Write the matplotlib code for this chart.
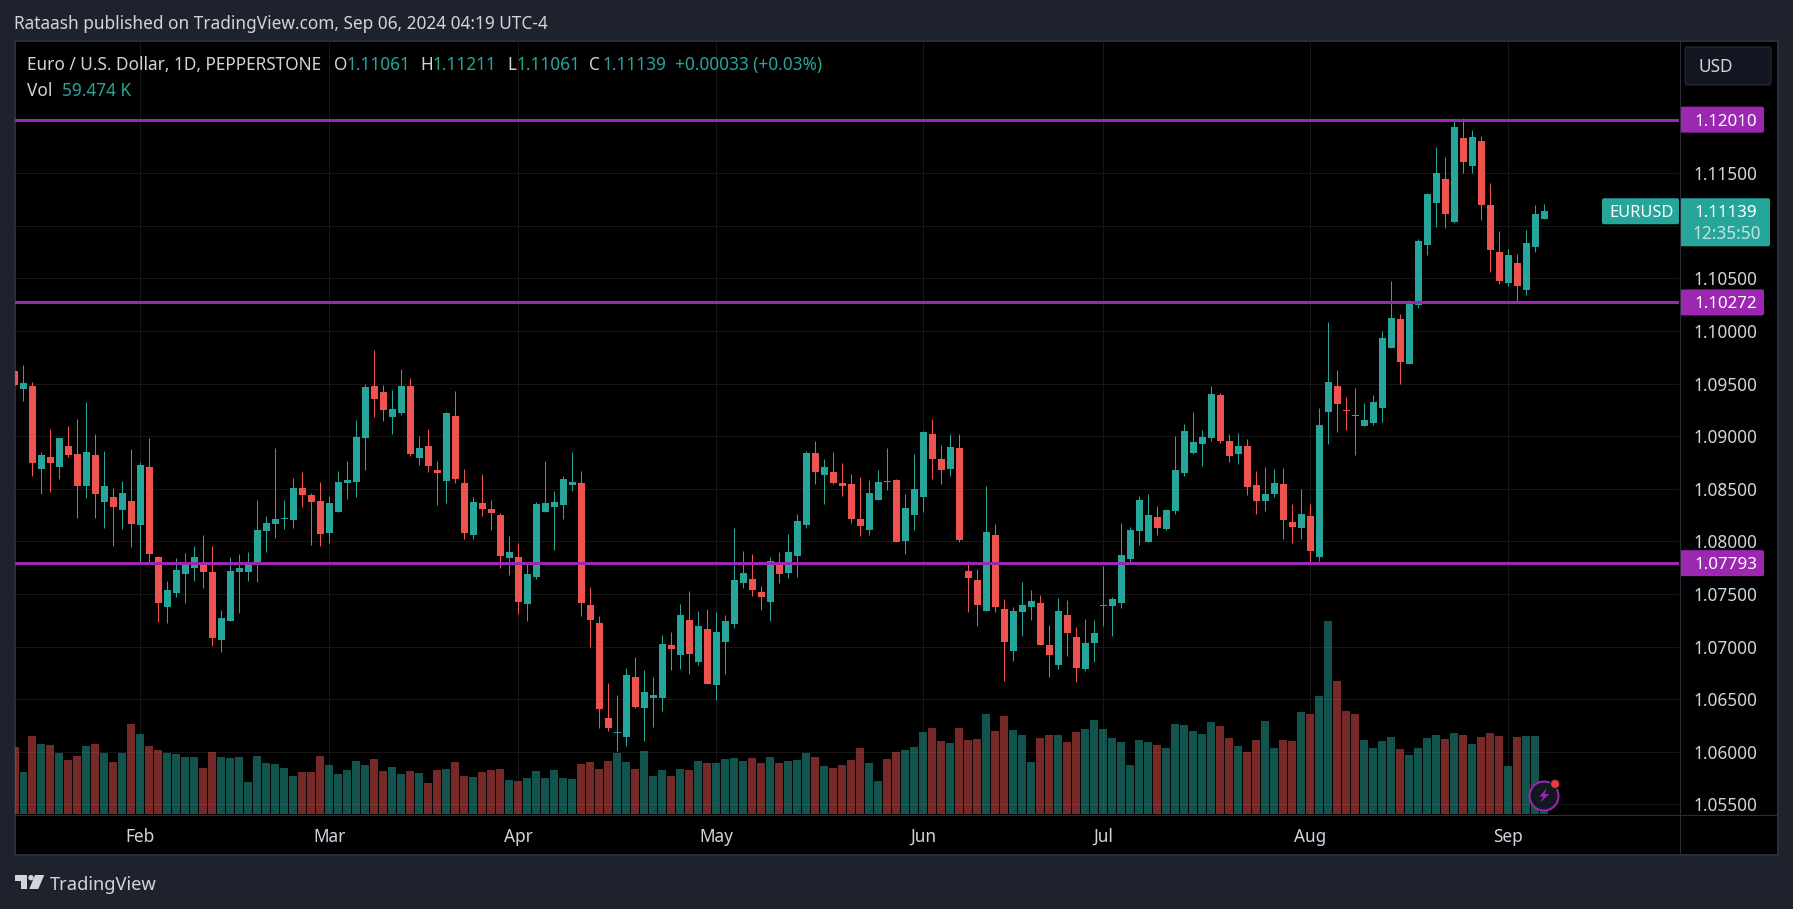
import numpy as np
import matplotlib
matplotlib.use("Agg")
import matplotlib.pyplot as plt
from matplotlib.patches import Rectangle, FancyBboxPatch, Circle, Polygon


# =========================
# 1. Data (prices in points, 1 point = 0.00001; volume in thousands)
# =========================
opens_pts = [
    109620, 109449, 109478, 108689, 108803, 108708, 108907, 108831, 108527, 108822,
    108375, 108422, 108299, 108384, 108156, 108708, 107852, 107377, 107510, 107690,
    107747, 107785, 107709, 107063, 107244, 107709, 107709, 107785, 108099, 108166,
    108213, 108204, 108508, 108441, 108384, 108080, 108280, 108556, 108565, 108983,
    109478, 109421, 109183, 109221, 109478, 108793, 108907, 108679, 108575, 109192,
    108555, 108061, 108365, 108308, 108251, 107842, 107851, 107405, 107661, 108279,
    108327, 108346, 108536, 108555, 107395, 107224, 106321, 106178, 106140, 106711,
    106416, 106511, 106511, 107015, 106920, 107252, 106853, 107167, 106634, 107043,
    107214, 107604, 107642, 107519, 107424, 107794, 107699, 107861, 108156, 108840,
    108631, 108659, 108555, 108545, 108213, 108108, 108393, 108574, 108583, 108003,
    108251, 108422, 109021, 108783, 108688, 108888, 107718, 107633, 107338, 108060,
    107357, 106958, 107328, 107376, 107414, 107015, 106825, 107300, 107091, 106787,
    107034, 107385, 107385, 107414, 107832, 108098, 107994, 108232, 108118, 108289,
    108650, 108840, 108926, 108983, 109391, 108954, 108831, 108907, 108536, 108384,
    108450, 108545, 108184, 108127, 108241, 107852, 109231, 109478, 109250, 109202,
    109098, 109126, 109269, 109839, 110115, 109687, 110248, 110818, 111218, 111446,
    111037, 111836, 111570, 111807, 111199, 110752, 110457, 110647, 110391, 110799,
    111061,
]
highs_pts = [
    109620, 109677, 109516, 108850, 109069, 108983, 109097, 109164, 109326, 109021,
    108860, 108508, 108575, 108879, 108755, 108983, 107861, 107624, 107842, 107890,
    107957, 108061, 107957, 107348, 107852, 107881, 107899, 108394, 108242, 108888,
    108394, 108603, 108660, 108460, 108565, 108432, 108670, 108765, 109154, 109497,
    109820, 109487, 109440, 109639, 109554, 109002, 109069, 108765, 109230, 109430,
    108688, 108422, 108640, 108393, 108270, 108051, 107985, 107794, 108374, 108764,
    108479, 108621, 108850, 108669, 107566, 107290, 106654, 106539, 106796, 106901,
    106777, 106711, 107110, 107138, 107405, 107528, 107338, 107357, 107328, 107300,
    108127, 107908, 107880, 107576, 107851, 107899, 108070, 108260, 108859, 108954,
    108783, 108850, 108745, 108640, 108612, 108583, 108678, 108888, 108593, 108450,
    108831, 109049, 109163, 108916, 109021, 109021, 107813, 107737, 108526, 108165,
    107452, 107376, 107614, 107538, 107490, 107205, 107462, 107443, 107186, 107262,
    107252, 107766, 107471, 108175, 108137, 108431, 108450, 108336, 108308, 109002,
    109116, 109230, 109059, 109477, 109410, 109021, 109030, 108973, 108669, 108707,
    108688, 108697, 108355, 108498, 108355, 109269, 110086, 109630, 109373, 109459,
    109316, 109392, 110001, 110476, 110162, 110296, 110876, 111313, 111750, 111655,
    112016, 112026, 111912, 111855, 111408, 110952, 110780, 110733, 110961, 111199,
    111211,
]
lows_pts = [
    109487, 109335, 108622, 108451, 108470, 108594, 108803, 108223, 108413, 108223,
    108128, 107957, 108118, 107947, 107804, 107804, 107234, 107225, 107472, 107415,
    107624, 107557, 107006, 106949, 107244, 107320, 107624, 107614, 107899, 108033,
    108118, 108128, 108327, 107966, 107957, 107985, 108280, 108403, 108422, 108679,
    109183, 109145, 109021, 109202, 108812, 108727, 108660, 108346, 108365, 108555,
    108023, 108023, 108241, 108108, 107747, 107680, 107310, 107243, 107642, 108279,
    107918, 108213, 108479, 107290, 106996, 106226, 106197, 106007, 106055, 106416,
    106102, 106235, 106387, 106777, 106787, 106739, 106825, 106644, 106492, 106739,
    107176, 107557, 107481, 107348, 107243, 107604, 107652, 107661, 108127, 108545,
    108355, 108545, 108431, 108175, 108051, 108061, 108393, 108488, 107994, 107880,
    108108, 108279, 108593, 108545, 108621, 107994, 107328, 107195, 107338, 107328,
    106672, 106863, 107100, 107252, 107015, 106710, 106787, 106910, 106663, 106767,
    106853, 107195, 107100, 107366, 107804, 107965, 107994, 108060, 108108, 108260,
    108621, 108831, 108716, 108954, 108935, 108754, 108735, 108441, 108260, 108289,
    108422, 108022, 107984, 108022, 107775, 107814, 108927, 109041, 109060, 108822,
    109098, 109107, 109136, 109839, 109497, 109687, 110220, 110723, 110990, 110980,
    111028, 111503, 111503, 111056, 110562, 110448, 110429, 110267, 110343, 110752,
    111061,
]
closes_pts = [
    109487, 109506, 108746, 108822, 108746, 108983, 108822, 108527, 108850, 108451,
    108527, 108327, 108460, 108166, 108727, 107881, 107415, 107538, 107728, 107776,
    107852, 107709, 107082, 107272, 107719, 107747, 107795, 108109, 108175, 108213,
    108223, 108508, 108441, 108375, 108071, 108365, 108565, 108584, 108993, 109468,
    109354, 109250, 109259, 109478, 108831, 108888, 108717, 108651, 109221, 108593,
    108080, 108374, 108308, 108270, 107861, 107899, 107424, 107690, 108355, 108365,
    108374, 108593, 108564, 107414, 107252, 106406, 106226, 106188, 106730, 106425,
    106568, 106539, 107024, 106977, 107300, 106929, 107195, 106644, 107138, 107243,
    107633, 107699, 107538, 107471, 107813, 107690, 107899, 108194, 108840, 108659,
    108707, 108555, 108526, 108213, 108146, 108460, 108564, 108564, 107994, 108317,
    108498, 109040, 108783, 108678, 108897, 108013, 107652, 107395, 108089, 107376,
    107043, 107338, 107395, 107433, 107015, 106920, 107338, 107129, 106796, 107034,
    107129, 107395, 107452, 107870, 108108, 108393, 108251, 108127, 108298, 108678,
    109049, 108945, 108992, 109401, 108954, 108812, 108907, 108517, 108384, 108450,
    108555, 108203, 108137, 108260, 107908, 109107, 109516, 109307, 109240, 109193,
    109155, 109326, 109934, 110124, 109706, 110277, 110857, 111303, 111503, 111113,
    111940, 111608, 111845, 111199, 110771, 110476, 110723, 110429, 110838, 111113,
    111139,
]
volume_k = [
    1212, 762, 1410, 1266, 1248, 1104, 978, 1050, 1230, 1266,
    1104, 942, 1104, 1626, 1446, 1230, 1158, 1104, 1086, 1032,
    1032, 834, 1122, 1032, 1014, 1032, 582, 1050, 924, 906,
    834, 690, 762, 762, 1050, 888, 726, 798, 960, 888,
    996, 780, 852, 726, 780, 744, 564, 798, 816, 942,
    690, 672, 762, 798, 816, 618, 600, 654, 780, 654,
    798, 654, 636, 906, 942, 816, 960, 1104, 942, 816,
    1140, 690, 798, 690, 816, 798, 960, 924, 924, 996,
    1014, 960, 1014, 924, 1032, 924, 960, 978, 1104, 1032,
    870, 834, 888, 978, 1194, 924, 600, 996, 1122, 1158,
    1212, 1482, 1554, 1320, 1284, 1554, 1338, 1356, 1806, 1500,
    1770, 1518, 1428, 942, 1374, 1428, 1428, 1302, 1482, 1536,
    1698, 1536, 1374, 1302, 888, 1338, 1302, 1248, 1194, 1626,
    1608, 1500, 1440, 1656, 1584, 1368, 1224, 1116, 1332, 1674,
    1188, 1332, 1314, 1836, 1800, 2124, 3474, 2394, 1854, 1800,
    1332, 1188, 1314, 1386, 1170, 1062, 1188, 1368, 1422, 1350,
    1458, 1422, 1260, 1386, 1458, 1404, 864, 1386, 1404, 1404,
    59.474,
]

month_labels = ["Feb", "Mar", "Apr", "May", "Jun", "Jul", "Aug", "Sep"]
month_index = [14, 35, 56, 78, 101, 121, 144, 166]

price_ticks = [1.055, 1.06, 1.065, 1.07, 1.075, 1.08, 1.085, 1.09, 1.095,
               1.10, 1.105, 1.11, 1.115, 1.12]
hidden_ticks = [1.11, 1.12]  # covered by the price boxes
level_prices = [1.12010, 1.10272, 1.07793]
last_price = 1.11139

# =========================
# 2. Colours / layout
# =========================
W, H = 1793, 909
BG = "#1E222D"
BORDER = "#2A2E39"
GRID = "#161616"
UP = "#26A69A"
DOWN = "#EF5350"
PURPLE = "#9C27B0"
TEXT = "#D1D4DC"
PX = 0.72  # one pixel in points at dpi 100
FS = 12.4

plt.rcParams["font.family"] = ["Noto Sans", "DejaVu Sans"]

opens = np.array(opens_pts) / 1e5
highs = np.array(highs_pts) / 1e5
lows = np.array(lows_pts) / 1e5
closes = np.array(closes_pts) / 1e5
volume = np.array(volume_k)
x = np.arange(len(opens))
colors = [UP if c >= o else DOWN for o, c in zip(opens, closes)]

fig = plt.figure(figsize=(W / 100, H / 100), dpi=100, facecolor=BG)


def axes_px(left, top, right, bottom, zorder):
    a = fig.add_axes([left / W, 1 - bottom / H, (right - left) / W, (bottom - top) / H], zorder=zorder)
    a.patch.set_alpha(0)
    return a


# pixel canvas for the frame
back = axes_px(0, 0, W, H, 0)
back.set_xlim(0, W)
back.set_ylim(H, 0)
back.axis("off")
back.add_patch(Rectangle((15, 41), 1763, 814, facecolor="black", edgecolor=BORDER, lw=2 * PX))

L, T, R, B = 15, 41, 1679, 814
xlim = ((L - 14.5) / 9, (R - 14.5) / 9)

# =========================
# 3. Candles (grid lives here, under the volume)
# =========================
ax = axes_px(L, T, R, B, 1)
ax.set_xlim(*xlim)
ax.set_ylim(1.055 - 9.7 / 10517, 1.055 + 763.3 / 10517)

ax.vlines(x, lows, highs, colors=colors, linewidth=PX, zorder=3)
body_low = np.minimum(opens, closes)
body_h = np.maximum(np.abs(closes - opens), 0.00009)
ax.bar(x, body_h, bottom=body_low, width=7 / 9, color=colors, linewidth=0, zorder=4)

for level in level_prices:
    ax.axhline(level, color=PURPLE, linewidth=3 * PX, zorder=5)

ax.set_yticks(price_ticks)
ax.set_yticklabels(["" if p in hidden_ticks else f"{p:.5f}" for p in price_ticks])
ax.set_xticks(month_index)
ax.set_xticklabels(month_labels)
ax.yaxis.tick_right()
ax.tick_params(axis="y", length=0, pad=10.2, labelsize=FS, labelcolor=TEXT)
ax.tick_params(axis="x", length=0, pad=10, labelsize=FS, labelcolor=TEXT)
ax.grid(True, color=GRID, linewidth=PX, zorder=1)
ax.set_axisbelow(True)
for s in ax.spines.values():
    s.set_visible(False)

# =========================
# 4. Volume pane
# =========================
ax_vol = axes_px(L, T, R, B, 2)
ax_vol.bar(x, volume, width=8 / 9, color=colors, alpha=0.5, linewidth=0)
ax_vol.set_xlim(*xlim)
ax_vol.set_ylim(0, (B - T) * 18)
ax_vol.axis("off")

# =========================
# 5. Chrome on top (pixel coordinates)
# =========================
top = axes_px(0, 0, W, H, 5)
top.set_xlim(0, W)
top.set_ylim(H, 0)
top.axis("off")

top.plot([1679.5, 1679.5], [41, 855], color=BORDER, lw=PX)
top.plot([15, 1778], [814.5, 814.5], color=BORDER, lw=PX)


def price_y(p):
    return H - ax.transData.transform((0, p))[1]


def box(x0, y0, x1, y1, color, edge="none"):
    top.add_patch(FancyBboxPatch((x0 + 2, y0 + 2), x1 - x0 - 4, y1 - y0 - 4,
                                 boxstyle="round,pad=2,rounding_size=2",
                                 facecolor=color, edgecolor=edge, lw=PX))


def label(x0, yc, s, color=TEXT, size=FS, **kw):
    # yc is the middle of the capitals, text sits on its baseline
    top.text(x0, yc + 0.357 * size / PX, s, color=color, fontsize=size, va="baseline", **kw)


# header
label(14, 23, "Rataash published on TradingView.com, Sep 06, 2024 04:19 UTC-4")

# legend rows
label(27, 64, "Euro / U.S. Dollar, 1D, PEPPERSTONE")
for x0, s in [(334, "O"), (420, "H"), (507, "L"), (589, "C")]:
    label(x0, 64, s)
for x0, s in [(347, "1.11061"), (433, "1.11211"), (517, "1.11061"), (603, "1.11139"),
              (675, "+0.00033 (+0.03%)")]:
    label(x0, 64, s, color=UP)
label(27, 89.5, "Vol")
label(62, 89.5, "59.474 K", color=UP)

# USD button
box(1685, 47, 1771, 85, "#131722", edge=BORDER)
label(1699, 65.5, "USD")

# level boxes
for level in level_prices:
    yc = price_y(level)
    box(1680, yc - 13, 1764, yc + 13, PURPLE)
    label(1694, yc, f"{level:.5f}", color="white", size=12.2, fontweight="semibold")

# last price
yc = price_y(last_price)
box(1602, yc - 13, 1679, yc + 13, UP)
label(1609, yc, "EURUSD", color="white", size=11.8, fontweight="semibold")
box(1680, yc - 13, 1770, yc + 35, UP)
label(1694, yc, f"{last_price:.5f}", color="white", size=12.2, fontweight="semibold")
label(1693, yc + 21.5, "12:35:50", color="#BEE4E1")

# lightning badge
top.add_patch(Circle((1544, 796), 14.5, facecolor="#131722", edgecolor=PURPLE, lw=2 * PX))
top.add_patch(Polygon([(1546.7, 788.3), (1539.3, 796.7), (1543.3, 796.7), (1540, 802.7),
                       (1549.3, 794), (1544.7, 794)], facecolor=PURPLE, edgecolor="none"))
top.add_patch(Circle((1555, 784), 5.5, facecolor="#131722", edgecolor="none"))
top.add_patch(Circle((1555, 784), 4, facecolor="#F23645", edgecolor="none"))

# TradingView logo
LOGO = "#D1D4DC"
top.add_patch(Polygon([(15, 875), (26.7, 875), (26.7, 889), (21, 889), (21, 880.5), (15, 880.5)],
                      facecolor=LOGO, edgecolor="none"))
top.add_patch(Circle((31, 877.7), 2.7, facecolor=LOGO, edgecolor="none"))
top.add_patch(Polygon([(35, 875), (44.3, 875), (38.3, 889), (29.3, 889)], facecolor=LOGO, edgecolor="none"))
label(50, 883, "TradingView", size=13.2)

fig.savefig("out.png", dpi=100, facecolor=BG)
